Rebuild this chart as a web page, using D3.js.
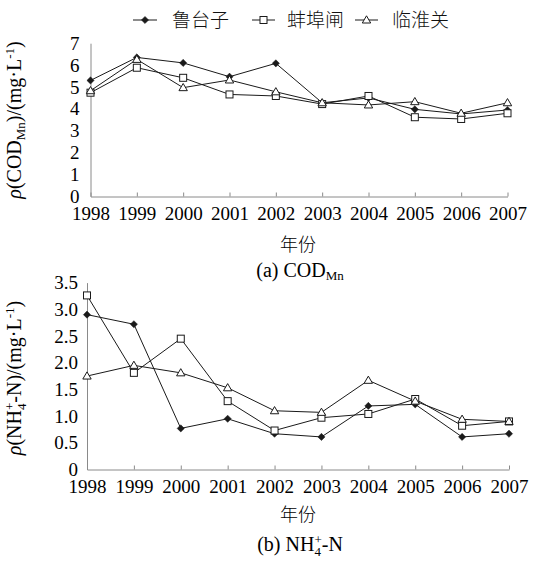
<!DOCTYPE html>
<html><head><meta charset="utf-8">
<script src="https://cdn.jsdelivr.net/npm/d3@7"></script>
<style>body{margin:0;background:#fff}
svg text{font-family:'Liberation Serif','Times New Roman',serif}
svg text.cjk{font-family:'Noto Sans CJK SC',sans-serif;font-weight:300}
</style>
</head><body>
<svg id="c" width="544" height="565"></svg>
<script>
const years = [1998,1999,2000,2001,2002,2003,2004,2005,2006,2007];
const seriesNames = ["鲁台子","蚌埠闸","临淮关"];
const codLutaizi = [5.3,6.35,6.1,5.47,6.08,4.28,4.5,3.98,3.77,3.95];
const codBengbu  = [4.74,5.88,5.42,4.66,4.59,4.22,4.59,3.62,3.54,3.8];
const codLinhuai = [4.83,6.26,4.97,5.32,4.78,4.28,4.18,4.33,3.8,4.28];
const nhLutaizi = [2.9,2.72,0.77,0.95,0.67,0.61,1.19,1.22,0.61,0.67];
const nhBengbu  = [3.26,1.81,2.45,1.28,0.73,0.97,1.04,1.32,0.82,0.9];
const nhLinhuai = [1.75,1.95,1.81,1.53,1.1,1.07,1.67,1.28,0.94,0.9];
const codTicks = [0,1,2,3,4,5,6,7];
const nhTicks = [0,0.5,1.0,1.5,2.0,2.5,3.0,3.5];

const svg = d3.select("#c");
const axisCol = "#8a8a8a";
const lineCol = "#1a1a1a";
const serifFam = "Liberation Serif";

function marker(g, type, cx, cy){
  if(type===0){
    g.append("path").attr("d",`M${cx},${cy-3.6}L${cx+3.6},${cy}L${cx},${cy+3.6}L${cx-3.6},${cy}Z`)
      .attr("fill",lineCol).attr("stroke",lineCol).attr("stroke-width",0.5);
  } else if(type===1){
    g.append("rect").attr("x",cx-3.5).attr("y",cy-3.5).attr("width",7).attr("height",7)
      .attr("fill","#fff").attr("stroke",lineCol).attr("stroke-width",1);
  } else {
    g.append("path").attr("d",`M${cx},${cy-4.2}L${cx+4.2},${cy+3}L${cx-4.2},${cy+3}Z`)
      .attr("fill","#fff").attr("stroke",lineCol).attr("stroke-width",1);
  }
}

function panel(opts){
  const x = d3.scaleLinear().domain([1998,2007]).range([opts.x0,opts.x1]);
  const y = d3.scaleLinear().domain([0,opts.ymax]).range([opts.yb,opts.yt]);
  const g = svg.append("g");
  const ax = g.append("g").attr("transform",`translate(0,${opts.yb})`)
    .call(d3.axisBottom(x).tickValues(years).tickFormat(d3.format("d")).tickSize(-4).tickSizeOuter(0).tickPadding(opts.xpad));
  ax.attr("font-family",serifFam).attr("font-size",19);
  ax.select(".domain").attr("stroke",axisCol);
  ax.selectAll(".tick line").attr("stroke",axisCol);
  ax.selectAll("text").attr("font-family",serifFam).style("font-family",serifFam+",serif").style("font-size","19px").attr("fill","#000");
  const ay = g.append("g").attr("transform",`translate(${opts.x0},0)`)
    .call(d3.axisLeft(y).tickValues(opts.ticks).tickFormat(opts.fmt).tickSize(0).tickPadding(opts.ypad));
  ay.attr("font-family",serifFam).attr("font-size",19);
  ay.select(".domain").attr("stroke",axisCol);
  ay.selectAll("text").attr("font-family",serifFam).style("font-family",serifFam+",serif").style("font-size","19px").attr("fill","#000");
  const line = d3.line().x((d,i)=>x(years[i])).y(d=>y(d));
  opts.data.forEach((s,k)=>{
    g.append("path").attr("d",line(s)).attr("fill","none").attr("stroke",lineCol).attr("stroke-width",1);
  });
  opts.data.forEach((s,k)=>{
    s.forEach((v,i)=>marker(g,k,x(years[i]),y(v)));
  });
}

panel({x0:90.5,x1:507.5,yb:196.5,yt:196.5-7*21.9,ymax:7,ticks:codTicks,fmt:d3.format("d"),
  data:[codLutaizi,codBengbu,codLinhuai],xpad:10,ypad:11});
panel({x0:87,x1:509,yb:469.5,yt:469.5-3.5*53.4,ymax:3.5,ticks:nhTicks,fmt:d=>d===0?"0":d3.format(".1f")(d),
  data:[nhLutaizi,nhBengbu,nhLinhuai],xpad:10,ypad:9});

// legend
const leg = svg.append("g");
const legPos = [[133,157,172],[252,275,287],[355,378,392]];
seriesNames.forEach((n,k)=>{
  const [a,b,t] = legPos[k];
  leg.append("line").attr("x1",a).attr("x2",b).attr("y1",20).attr("y2",20).attr("stroke",lineCol).attr("stroke-width",1);
  marker(leg,k,(a+b)/2,20);
  leg.append("text").attr("class","cjk").attr("x",t).attr("y",27).attr("font-size",19).attr("fill","#111").text(n);
});

// axis titles
function yTitle(cx, cy, kind){
  const t = svg.append("text").attr("transform",`translate(${cx},${cy}) rotate(-90)`)
    .attr("text-anchor","middle").attr("font-size",20).attr("fill","#000");
  t.append("tspan").attr("font-style","italic").text("ρ");
  if(kind==="cod"){
    t.append("tspan").text("(COD");
    t.append("tspan").attr("font-size",13).attr("dy",4).text("Mn");
    t.append("tspan").attr("dy",-4).text(")/(mg·L");
  } else {
    t.append("tspan").text("(NH");
    t.append("tspan").attr("font-size",13).attr("dy",5).text("4");
    t.append("tspan").attr("font-size",13).attr("dx",-6.5).attr("dy",-12).text("+");
    t.append("tspan").attr("dy",7).text("-N)/(mg·L");
  }
  t.append("tspan").attr("font-size",13).attr("dy",-7).text("-1");
  t.append("tspan").attr("dy",7).text(")");
}
yTitle(21,120,"cod");
yTitle(21,378,"nh");

// x titles and captions
svg.append("text").attr("class","cjk").attr("x",298).attr("y",251).attr("text-anchor","middle").attr("font-size",18).text("年份");
const capA = svg.append("text").attr("x",300).attr("y",277).attr("text-anchor","middle").attr("font-size",20);
capA.append("tspan").text("(a) COD");
capA.append("tspan").attr("font-size",13).attr("dy",3).text("Mn");
svg.append("text").attr("class","cjk").attr("x",298).attr("y",521).attr("text-anchor","middle").attr("font-size",18).text("年份");
const capB = svg.append("text").attr("x",300).attr("y",551).attr("text-anchor","middle").attr("font-size",20);
capB.append("tspan").text("(b) NH");
capB.append("tspan").attr("font-size",13).attr("dy",5).text("4");
capB.append("tspan").attr("font-size",13).attr("dx",-6.5).attr("dy",-12).text("+");
capB.append("tspan").attr("dy",7).text("-N");
</script>
</body></html>
